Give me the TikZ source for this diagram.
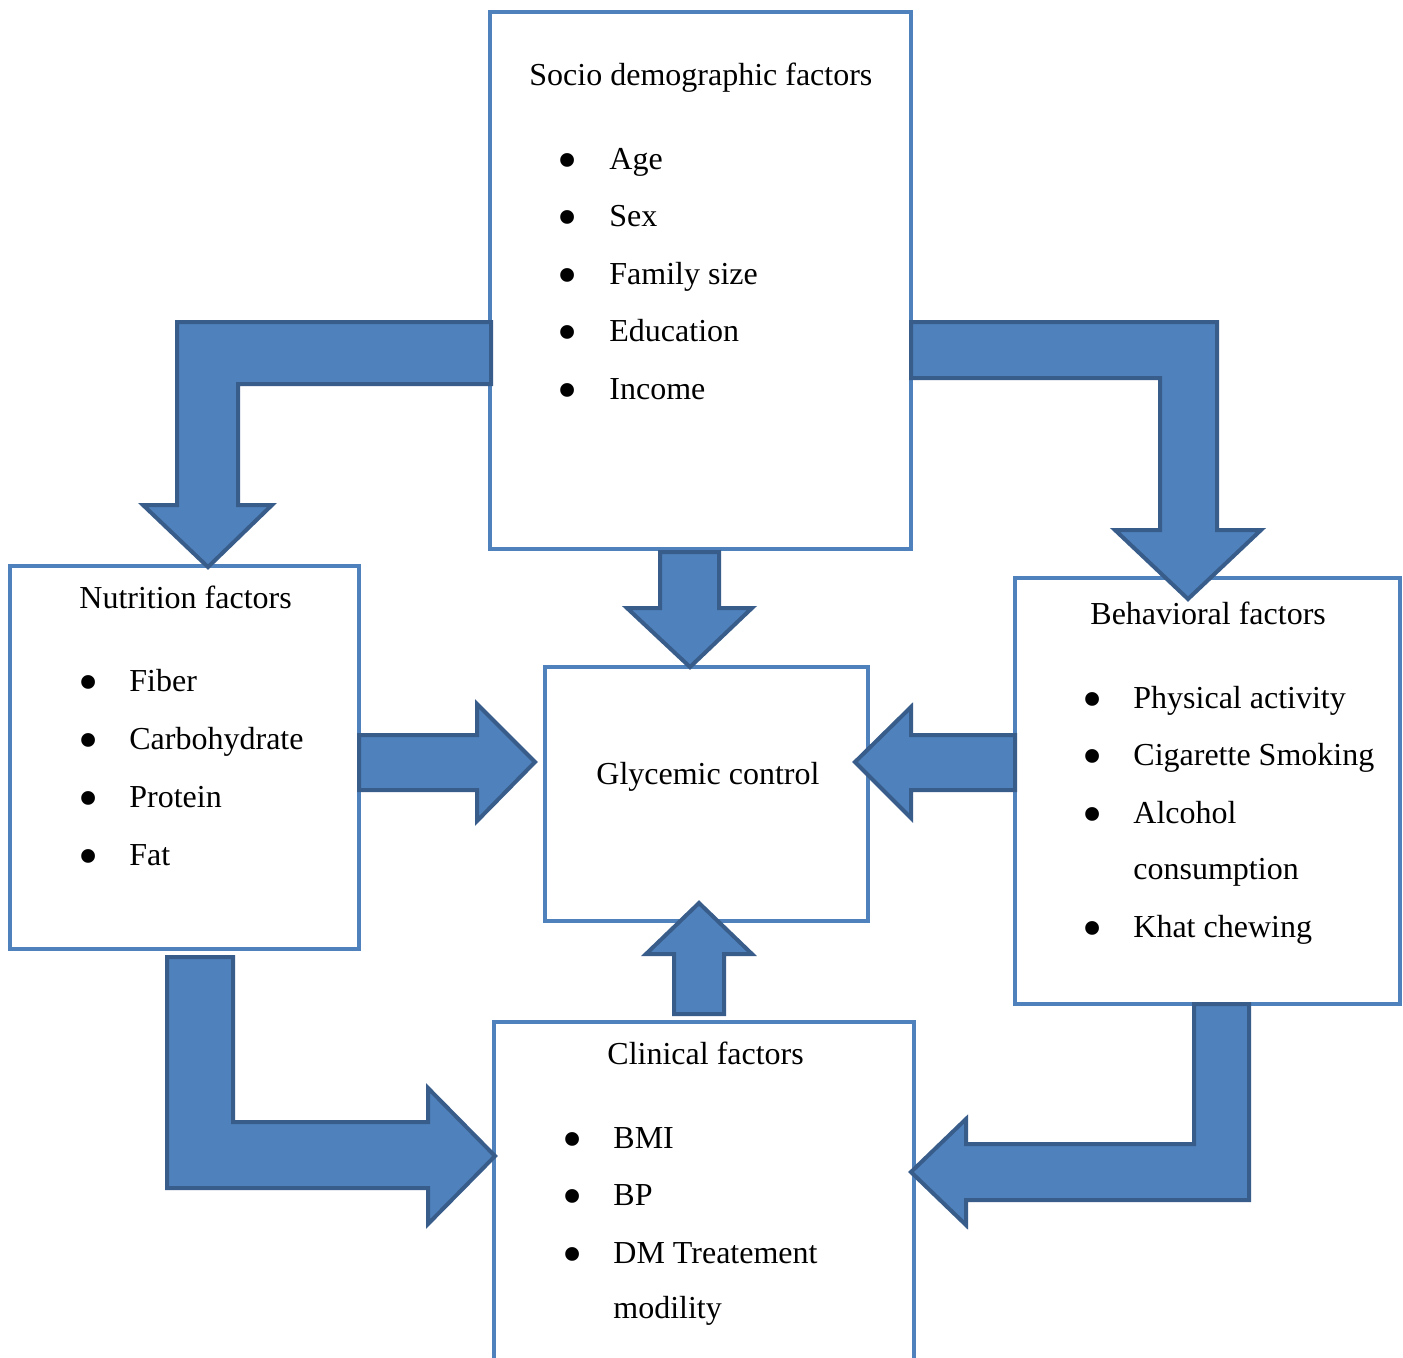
\documentclass[tikz,border=0pt]{standalone}
\usepackage{graphicx}
\usepackage{fontspec}
\setmainfont{Liberation Serif}
\definecolor{boxblue}{HTML}{4F81BD}
\definecolor{arrowline}{HTML}{385D8A}
\newcommand{\bigbul}{\raisebox{-5.2pt}{\scalebox{1.8}{•}}}
\begin{document}
\begin{tikzpicture}[x=0.5pt,y=-0.5pt,
  box/.style={draw=boxblue,line width=1.6pt,fill=white},
  blockarrow/.style={fill=boxblue,draw=arrowline,line width=2pt,line join=miter},
  txt/.style={anchor=base west,inner sep=0pt,font=\fontsize{16}{19}\selectfont},
  bul/.style={anchor=base,inner sep=0pt,font=\fontsize{16}{19}\selectfont}]
\clip (0,0) rectangle (1403,1357);
\fill[white] (0,0) rectangle (1403,1357);
% boxes
\draw[box] (490,12) rectangle (911,549);
\draw[box] (10,566) rectangle (359,949);
\draw[box] (545,667) rectangle (868,921);
\draw[box] (1015,578) rectangle (1400,1004);
\draw[box] (494,1380) -- (494,1022) -- (914,1022) -- (914,1380);
% block arrows
\draw[blockarrow] (491,322) -- (177,322) -- (177,505) -- (143,505) -- (208,567) -- (272,505) -- (238,505) -- (238,384) -- (491,384) -- cycle;
\draw[blockarrow] (911,322) -- (1217,322) -- (1217,530) -- (1261,530) -- (1188,599) -- (1115,530) -- (1160,530) -- (1160,378) -- (911,378) -- cycle;
\draw[blockarrow] (660,552) -- (719,552) -- (719,608) -- (752,608) -- (690,667) -- (627,608) -- (660,608) -- cycle;
\draw[blockarrow] (359,735) -- (477,735) -- (477,704) -- (535,762) -- (477,821) -- (477,790) -- (359,790) -- cycle;
\draw[blockarrow] (1015,735) -- (911,735) -- (911,707) -- (855,762) -- (911,818) -- (911,790) -- (1015,790) -- cycle;
\draw[blockarrow] (674,1014) -- (674,954) -- (646,954) -- (699,903) -- (752,954) -- (724,954) -- (724,1014) -- cycle;
\draw[blockarrow] (167,957) -- (233,957) -- (233,1122) -- (428,1122) -- (428,1088) -- (495,1156) -- (428,1224) -- (428,1188) -- (167,1188) -- cycle;
\draw[blockarrow] (1249,1004) -- (1249,1200) -- (966,1200) -- (966,1225) -- (911,1172) -- (966,1119) -- (966,1144) -- (1194,1144) -- (1194,1004) -- cycle;
% socio text
\node[txt] (st) at (529,85) {Socio demographic factors};
\node[bul] (sb1) at (568,169) {\bigbul}; \node[txt] (s1) at (609,169) {Age};
\node[bul] (sb2) at (568,226) {\bigbul}; \node[txt] (s2) at (609,226) {Sex};
\node[bul] (sb3) at (568,284) {\bigbul}; \node[txt] (s3) at (609,284) {Family size};
\node[bul] (sb4) at (568,341) {\bigbul}; \node[txt] (s4) at (609,341) {Education};
\node[bul] (sb5) at (568,399) {\bigbul}; \node[txt] (s5) at (609,399) {Income};
% nutrition text
\node[txt] (nt) at (79,608) {Nutrition factors};
\node[bul] (nb1) at (89,691) {\bigbul}; \node[txt] (n1) at (129,691) {Fiber};
\node[bul] (nb2) at (89,749) {\bigbul}; \node[txt] (n2) at (129,749) {Carbohydrate};
\node[bul] (nb3) at (89,807) {\bigbul}; \node[txt] (n3) at (129,807) {Protein};
\node[bul] (nb4) at (89,865) {\bigbul}; \node[txt] (n4) at (129,865) {Fat};
% glycemic
\node[txt] (gt) at (596,784) {Glycemic control};
% behavioral
\node[txt] (bt) at (1090,624) {Behavioral factors};
\node[bul] (bb1) at (1093,708) {\bigbul}; \node[txt] (b1) at (1133,708) {Physical activity};
\node[bul] (bb2) at (1093,765) {\bigbul}; \node[txt] (b2) at (1133,765) {Cigarette Smoking};
\node[bul] (bb3) at (1093,823) {\bigbul}; \node[txt] (b3) at (1133,823) {Alcohol};
\node[txt] (b3b) at (1133,879) {consumption};
\node[bul] (bb4) at (1093,937) {\bigbul}; \node[txt] (b4) at (1133,937) {Khat chewing};
% clinical
\node[txt] (ct) at (607,1064) {Clinical factors};
\node[bul] (cb1) at (573,1148) {\bigbul}; \node[txt] (c1) at (613,1148) {BMI};
\node[bul] (cb2) at (573,1205) {\bigbul}; \node[txt] (c2) at (613,1205) {BP};
\node[bul] (cb3) at (573,1263) {\bigbul}; \node[txt] (c3) at (613,1263) {DM Treatement};
\node[txt] (c3b) at (613,1318) {modility};
\end{tikzpicture}
\end{document}
